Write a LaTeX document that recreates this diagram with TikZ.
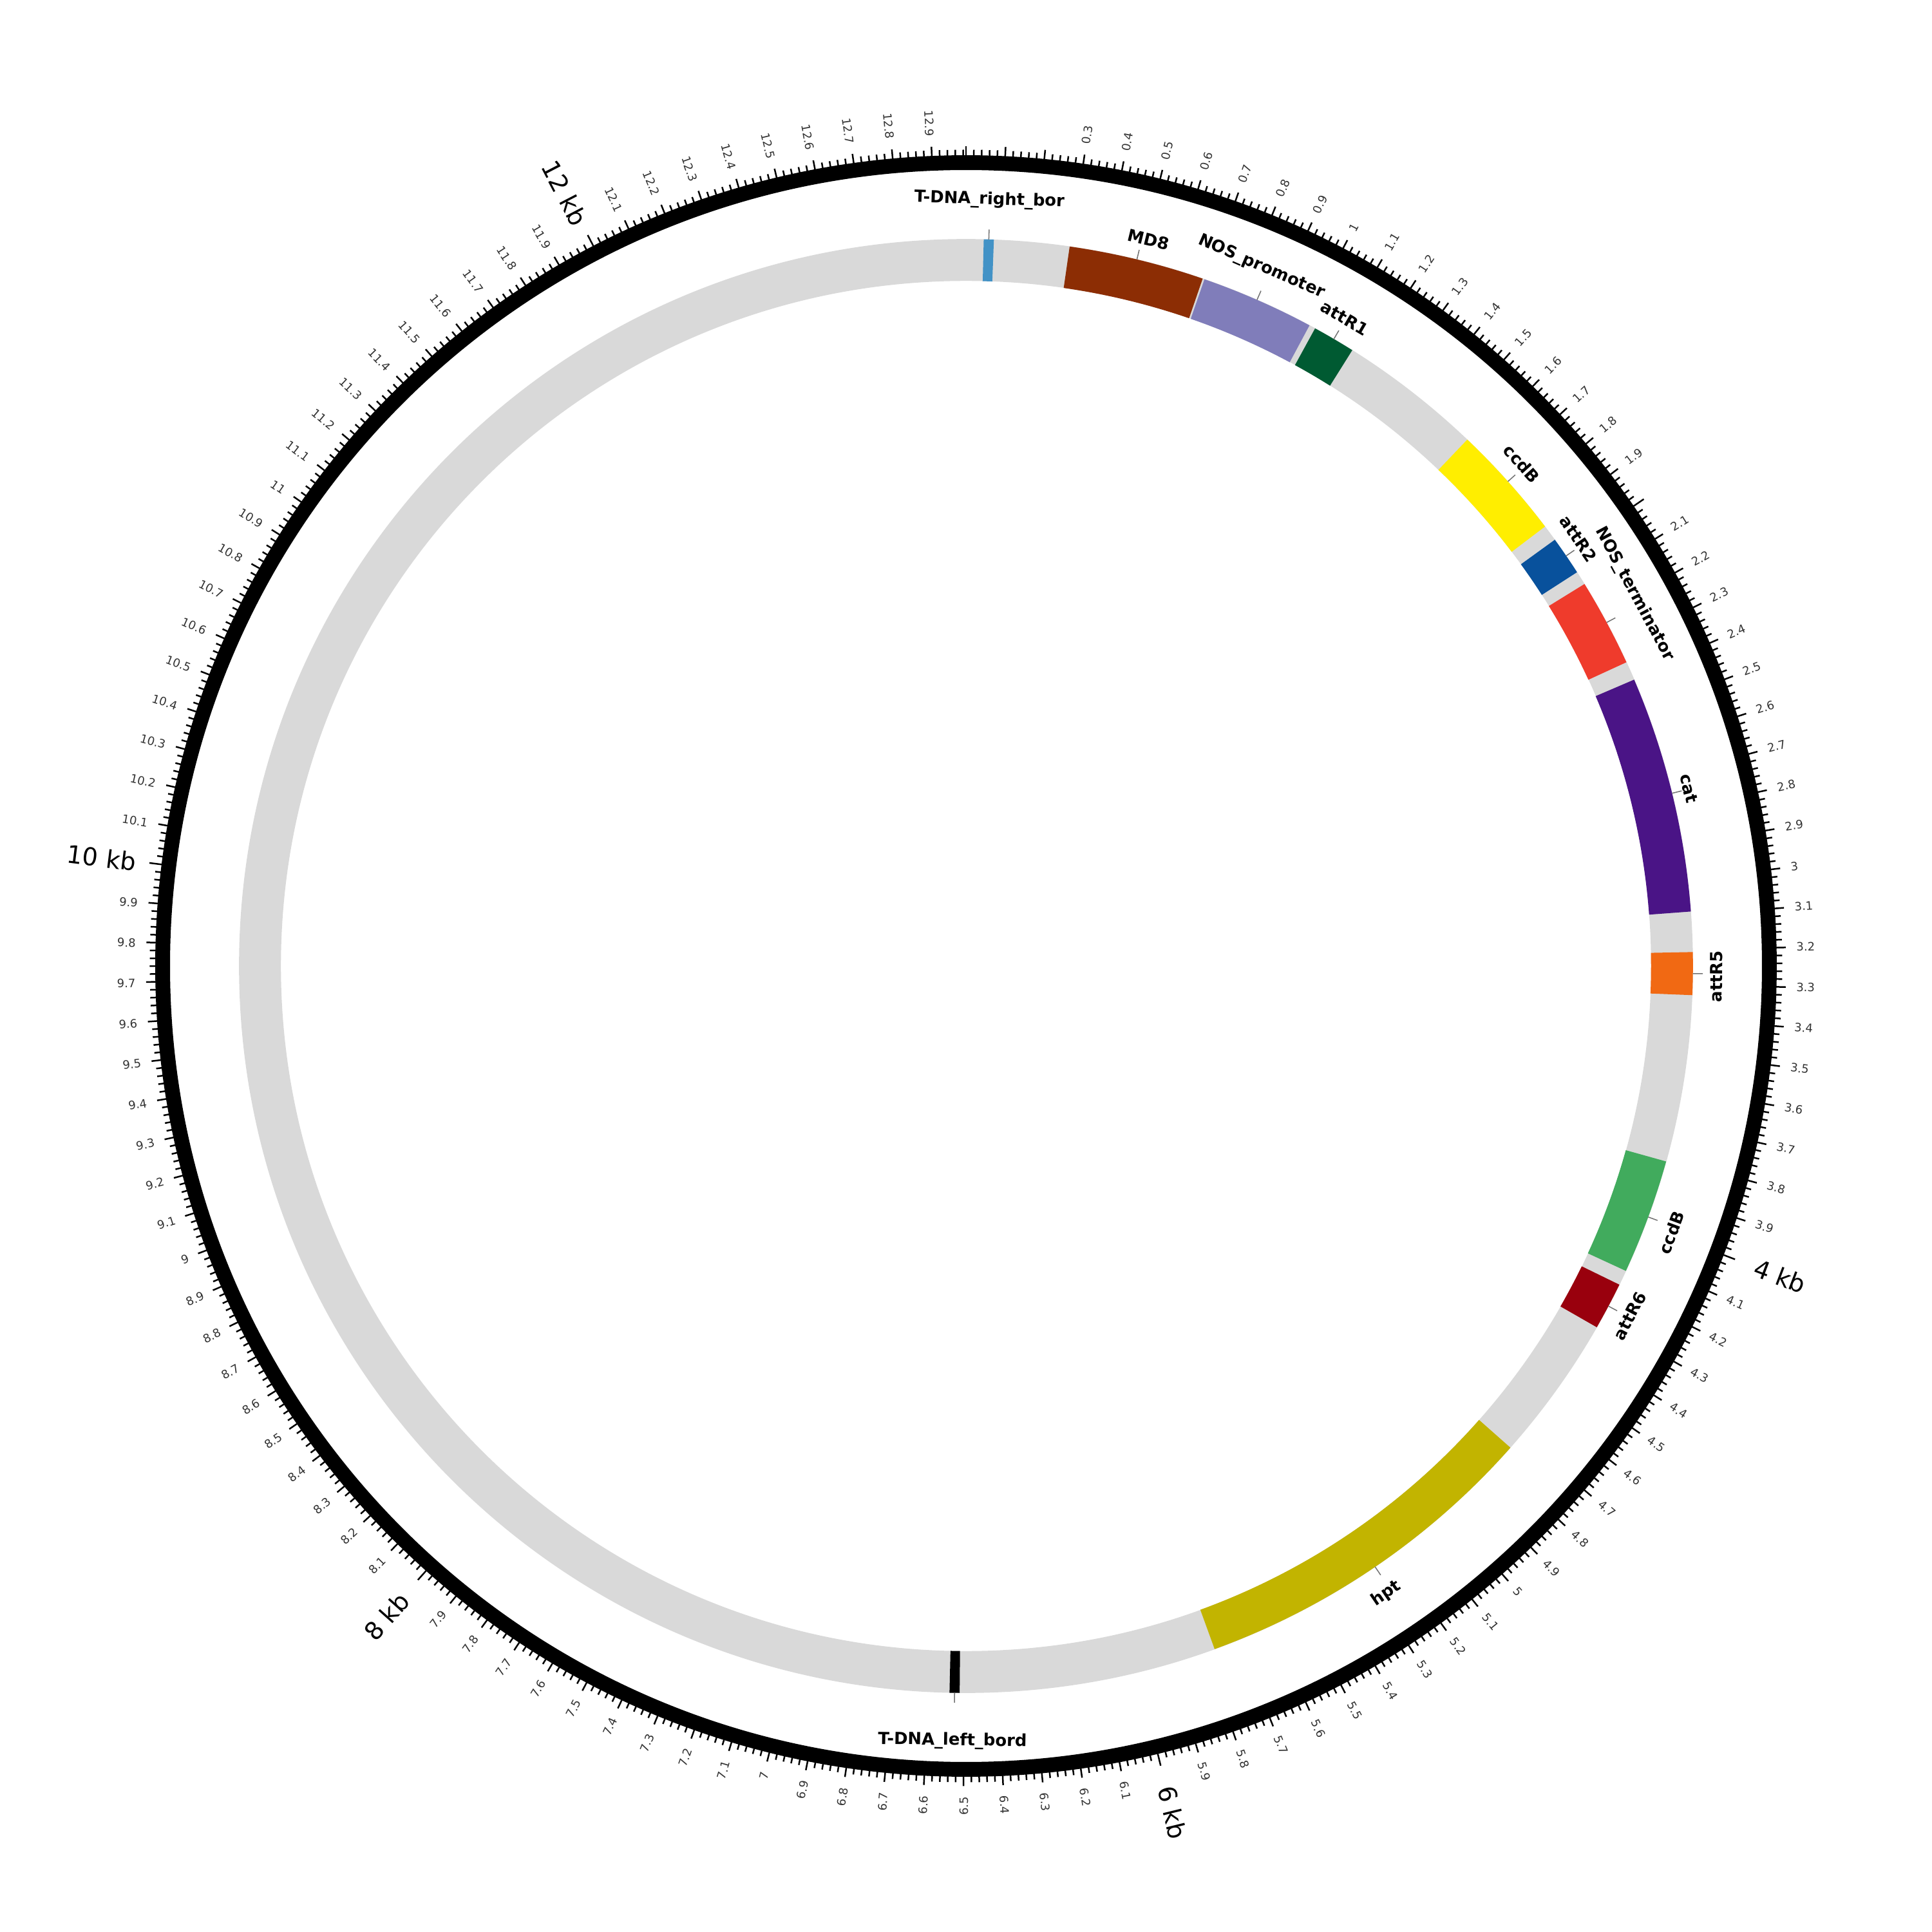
\documentclass[tikz,border=0pt]{standalone}
\usepackage{fontspec}
\setmainfont{DejaVu Sans}
\definecolor{ringgray}{HTML}{D9D9D9}
\definecolor{cRB}{HTML}{4292C6}
\definecolor{cMD}{HTML}{8C2D04}
\definecolor{cNOSp}{HTML}{807DBA}
\definecolor{cattRa}{HTML}{005A32}
\definecolor{cccdBa}{HTML}{FFEE00}
\definecolor{cattRb}{HTML}{08519C}
\definecolor{cNOSt}{HTML}{EF3B2C}
\definecolor{ccat}{HTML}{4A1486}
\definecolor{cattRc}{HTML}{F16913}
\definecolor{cccdBb}{HTML}{41AB5D}
\definecolor{cattRd}{HTML}{99000D}
\definecolor{chpt}{HTML}{C2B400}
\tikzset{
  ticklab/.style={font=\fontsize{9.4}{11}\selectfont, text=black!80, inner sep=0pt},
  kblab/.style={font=\fontsize{20}{24}\selectfont, inner sep=0pt},
  featlab/.style={font=\fontsize{13.5}{16}\selectfont\bfseries, inner sep=0pt},
  featline/.style={draw=black!55, line width=0.8pt},
  tickmark/.style={line width=1.3pt}
}
\newcommand\plasarc[3]{\fill[#1] ({90-#2}:556pt) arc[start angle={90-#2}, end angle={90-#3}, radius=556pt] -- ({90-#3}:590pt) arc[start angle={90-#3}, end angle={90-#2}, radius=590pt] -- cycle;}
\newcommand\plaslabel[6]{%
  \coordinate (#1a) at ({90-#2}:590pt);
  \coordinate (#1b) at ({90-#2}:598pt);
  \draw[featline] (#1a) -- (#1b);
  \node[featlab, rotate=#5] (#1) at ({90-#3}:#4pt) {#6};
}
\begin{document}
\begin{tikzpicture}
\useasboundingbox (-784pt,-784pt) rectangle (784pt,784pt);
% backbone ring
\fill[ringgray, even odd rule] (0,0) circle[radius=590pt] (0,0) circle[radius=556pt];
% features
\plasarc{cRB}{1.4}{2.2}
\plasarc{cMD}{8.2}{19.0}
\plasarc{cNOSp}{19.15}{28.2}
\plasarc{cattRa}{28.7}{32.1}
\plasarc{cccdBa}{43.6}{52.8}
\plasarc{cattRb}{54.1}{57.2}
\plasarc{cNOSt}{58.3}{65.3}
\plasarc{ccat}{66.8}{85.7}
\plasarc{cattRc}{88.9}{92.3}
\plasarc{cccdBb}{105.6}{114.8}
\plasarc{cattRd}{116.0}{119.8}
\plasarc{chpt}{131.5}{160.0}
\plasarc{black}{180.5}{181.3}
% feature labels
\plaslabel{lRB}{1.8}{1.75}{622}{-1.8}{T-DNA\_right\_bor}
\plaslabel{lMD}{13.6}{14.1}{608}{-13.6}{MD8}
\plaslabel{lNOSp}{23.6}{22.9}{616}{-23.6}{NOS\_promoter}
\plaslabel{lattRa}{30.4}{30.3}{609}{-30.4}{attR1}
\plaslabel{lccdBa}{48.2}{47.9}{608}{-48.2}{ccdB}
\plaslabel{lattRb}{55.65}{55.1}{606}{-55.6}{attR2}
\plaslabel{lNOSt}{61.8}{60.9}{621}{-61.8}{NOS\_terminator}
\plaslabel{lcat}{76.25}{76.2}{604}{-76.2}{cat}
\plaslabel{lattRc}{90.6}{90.8}{609}{89.4}{attR5}
\plaslabel{lccdBb}{110.2}{110.7}{612}{69.8}{ccdB}
\plaslabel{lattRd}{117.9}{117.8}{609}{62.1}{attR6}
\plaslabel{lhpt}{145.75}{146.2}{613}{34.2}{hpt}
\plaslabel{lLB}{180.9}{181.0}{629}{-0.9}{T-DNA\_left\_bord}
% outer scale ring
\fill[black, even odd rule] (0,0) circle[radius=658pt] (0,0) circle[radius=646pt];
\foreach \i in {0,...,649}{%
  \pgfmathsetmacro\ang{90-\i*0.02*360/12.99}%
  \pgfmathtruncatemacro\mf{mod(\i,5)}%
  \pgfmathtruncatemacro\mh{mod(\i,100)}%
  \ifnum\mf=0
    \ifnum\mh=0
      \ifnum\i>0 \def\tl{668}\else\def\tl{665.5}\fi
    \else \def\tl{665.5}\fi
  \else \def\tl{662.5}\fi
  \draw[tickmark] (\ang:657pt) -- (\ang:\tl pt);
}
\foreach \k in {3,...,129}{%
  \pgfmathtruncatemacro\mk{mod(\k,20)}%
  \ifnum\mk=0\else
    \pgfmathtruncatemacro\ia{div(\k,10)}%
    \pgfmathtruncatemacro\ib{mod(\k,10)}%
    \pgfmathsetmacro\th{\k*36/12.99}%
    \ifdim\th pt<180pt
      \node[ticklab, rotate={90-\th}, anchor=west] (tl\k) at ({90-\th}:674pt) {\ifnum\ib=0 \ia\else\ia.\ib\fi};
    \else
      \node[ticklab, rotate={270-\th}, anchor=east] (tl\k) at ({90-\th}:674pt) {\ifnum\ib=0 \ia\else\ia.\ib\fi};
    \fi
  \fi
}
\foreach \p in {4,6,8,10,12}{%
  \pgfmathsetmacro\th{\p*360/12.99}%
  \ifdim\th pt<180pt
    \node[kblab, rotate={90-\th}] (kb\p) at ({90-\th}:707pt) {\p\ kb};
  \else
    \node[kblab, rotate={270-\th}] (kb\p) at ({90-\th}:707pt) {\p\ kb};
  \fi
}
\end{tikzpicture}
\end{document}
